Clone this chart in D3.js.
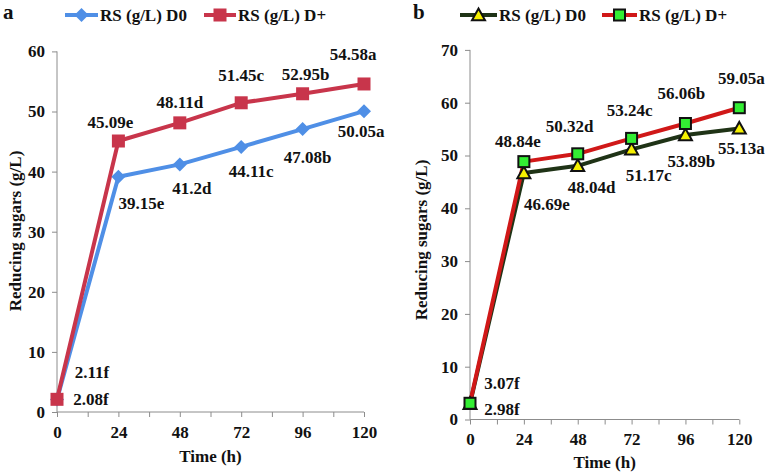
<!DOCTYPE html>
<html>
<head>
<meta charset="utf-8">
<script src="https://cdn.jsdelivr.net/npm/d3@7"></script>
<style>
  html, body { margin: 0; padding: 0; background: #fff; }
  svg text { font-family: "Liberation Serif", "Times New Roman", serif; font-weight: bold; fill: #111; }
</style>
</head>
<body>
<svg id="chart" width="767" height="474"></svg>
<script>
// ---- data ----
const times = [0, 24, 48, 72, 96, 120];
const xTickLabels = [0, 24, 48, 72, 96, 120];
const aYTicks = [0, 10, 20, 30, 40, 50, 60];
const bYTicks = [0, 10, 20, 30, 40, 50, 60, 70];

const aD0 = [2.08, 39.15, 41.2, 44.11, 47.08, 50.05];
const aD0Labels = ["2.08f", "39.15e", "41.2d", "44.11c", "47.08b", "50.05a"];
const aDp = [2.11, 45.09, 48.11, 51.45, 52.95, 54.58];
const aDpLabels = ["2.11f", "45.09e", "48.11d", "51.45c", "52.95b", "54.58a"];

const bD0 = [2.98, 46.69, 48.04, 51.17, 53.89, 55.13];
const bD0Labels = ["2.98f", "46.69e", "48.04d", "51.17c", "53.89b", "55.13a"];
const bDp = [3.07, 48.84, 50.32, 53.24, 56.06, 59.05];
const bDpLabels = ["3.07f", "48.84e", "50.32d", "53.24c", "56.06b", "59.05a"];

const seriesNames = ["RS (g/L) D0", "RS (g/L) D+"];

// label nudges (pixels, relative to point)
const aD0Nudge = [[34, 0], [23, 27], [12, 24], [10, 25], [5, 28], [-3, 20]];
const aDpNudge = [[35, -27], [-8, -19], [0, -20], [0, -27], [3, -19], [-11, -29]];
const bD0Nudge = [[32, 6], [23, 32], [14, 22], [17, 26], [6, 27], [2, 20]];
const bDpNudge = [[32, -20], [-6, -20], [-8, -27], [-2, -28], [-4, -30], [2, -29]];

const svg = d3.select("#chart");
const axisColor = "#8c8c8c";
const FS = 17;

function drawPanel(cfg) {
  const g = svg.append("g");
  const x = d3.scaleLinear().domain([0, 120]).range([cfg.x0, cfg.x1]);
  const y = d3.scaleLinear().domain([0, cfg.yMax]).range([cfg.y0, cfg.y1]);

  // x axis
  const xAxis = d3.axisBottom(x).tickValues(d3.range(0, 121, 12)).tickSize(5)
    .tickFormat(d => xTickLabels.includes(d) ? d : "");
  const gx = g.append("g").attr("transform", `translate(0,${cfg.y0})`).call(xAxis);
  gx.select(".domain").attr("stroke", axisColor).attr("d", `M${cfg.x0},0H${cfg.x1}`);
  gx.selectAll(".tick line").attr("stroke", axisColor);
  gx.selectAll(".tick text").attr("font-size", FS).attr("dy", "1.05em").attr("fill", "#111");

  // y axis
  const yAxis = d3.axisLeft(y).tickValues(cfg.yTicks).tickSize(5).tickPadding(7);
  const gy = g.append("g").attr("transform", `translate(${cfg.x0},0)`).call(yAxis);
  gy.select(".domain").attr("stroke", axisColor).attr("d", `M0,${cfg.y0}V${cfg.y1}`);
  gy.selectAll(".tick line").attr("stroke", axisColor);
  gy.selectAll(".tick text").attr("font-size", FS).attr("fill", "#111");

  // axis titles
  g.append("text").attr("x", (cfg.x0 + cfg.x1) / 2).attr("y", cfg.xTitleY)
    .attr("text-anchor", "middle").attr("font-size", FS).text("Time (h)");
  g.append("text").attr("transform", `translate(${cfg.yTitleX},${cfg.yTitleCY}) rotate(-90)`)
    .attr("text-anchor", "middle").attr("dominant-baseline", "central")
    .attr("font-size", FS).text("Reducing sugars (g/L)");

  // panel letter
  g.append("text").attr("x", cfg.letterX).attr("y", 19).attr("font-size", 21).text(cfg.letter);

  const line = d3.line().x((d, i) => x(times[i])).y(d => y(d));

  cfg.series.forEach(s => {
    g.append("path").datum(s.values).attr("d", line).attr("fill", "none")
      .attr("stroke", s.lineColor).attr("stroke-width", 4).attr("stroke-linejoin", "round");
  });
  cfg.series.forEach(s => {
    s.values.forEach((v, i) => drawMarker(g, s.marker, x(times[i]), y(v), s));
  });
  cfg.series.forEach(s => {
    g.selectAll(null).data(s.values).enter().append("text")
      .attr("x", (d, i) => x(times[i]) + s.nudge[i][0])
      .attr("y", (d, i) => y(d) + s.nudge[i][1])
      .attr("text-anchor", "middle").attr("dominant-baseline", "central")
      .attr("font-size", FS).text((d, i) => s.labels[i]);
  });

  // legend
  cfg.series.forEach((s, k) => {
    const lx = cfg.legendX[k];
    const ly = 15;
    g.append("line").attr("x1", lx).attr("x2", lx + s.legendLen).attr("y1", ly).attr("y2", ly)
      .attr("stroke", s.lineColor).attr("stroke-width", 4);
    drawMarker(g, s.marker, lx + s.legendLen / 2, ly, s);
    g.append("text").attr("x", lx + s.legendLen + 2).attr("y", ly).attr("dominant-baseline", "central")
      .attr("font-size", FS).text(seriesNames[k]);
  });
}

function drawMarker(g, type, cx, cy, s) {
  if (type === "diamond") {
    const r = 7;
    g.append("path").attr("d", `M${cx},${cy - r}L${cx + r},${cy}L${cx},${cy + r}L${cx - r},${cy}Z`)
      .attr("fill", s.fill);
  } else if (type === "square") {
    const h = s.stroke ? 5.5 : 6.5;
    g.append("rect").attr("x", cx - h).attr("y", cy - h).attr("width", 2 * h).attr("height", 2 * h)
      .attr("fill", s.fill).attr("stroke", s.stroke || "none").attr("stroke-width", s.stroke ? 2 : 0);
  } else if (type === "triangle") {
    const r = 6.5;
    g.append("path").attr("d", `M${cx},${cy - r}L${cx + r},${cy + r * 0.8}L${cx - r},${cy + r * 0.8}Z`)
      .attr("fill", s.fill).attr("stroke", s.stroke).attr("stroke-width", 2).attr("stroke-linejoin", "miter");
  }
}

drawPanel({
  letter: "a", letterX: 3,
  x0: 57, x1: 364, y0: 412, y1: 51.4, yMax: 60, yTicks: aYTicks,
  xTitleY: 462, yTitleX: 15, yTitleCY: 231,
  legendX: [65, 204],
  series: [
    { values: aD0, labels: aD0Labels, nudge: aD0Nudge, lineColor: "#4f8fe6", fill: "#4f8fe6", marker: "diamond", legendLen: 33 },
    { values: aDp, labels: aDpLabels, nudge: aDpNudge, lineColor: "#c8354b", fill: "#c8354b", marker: "square", legendLen: 32 }
  ]
});

drawPanel({
  letter: "b", letterX: 413,
  x0: 470, x1: 739.3, y0: 419.5, y1: 49.9, yMax: 70, yTicks: bYTicks,
  xTitleY: 468, yTitleX: 421, yTitleCY: 240,
  legendX: [460, 602],
  series: [
    { values: bD0, labels: bD0Labels, nudge: bD0Nudge, lineColor: "#1f3316", fill: "#f5f000", stroke: "#111", marker: "triangle", legendLen: 37 },
    { values: bDp, labels: bDpLabels, nudge: bDpNudge, lineColor: "#d01818", fill: "#33ee33", stroke: "#111", marker: "square", legendLen: 35 }
  ]
});
</script>
</body>
</html>
